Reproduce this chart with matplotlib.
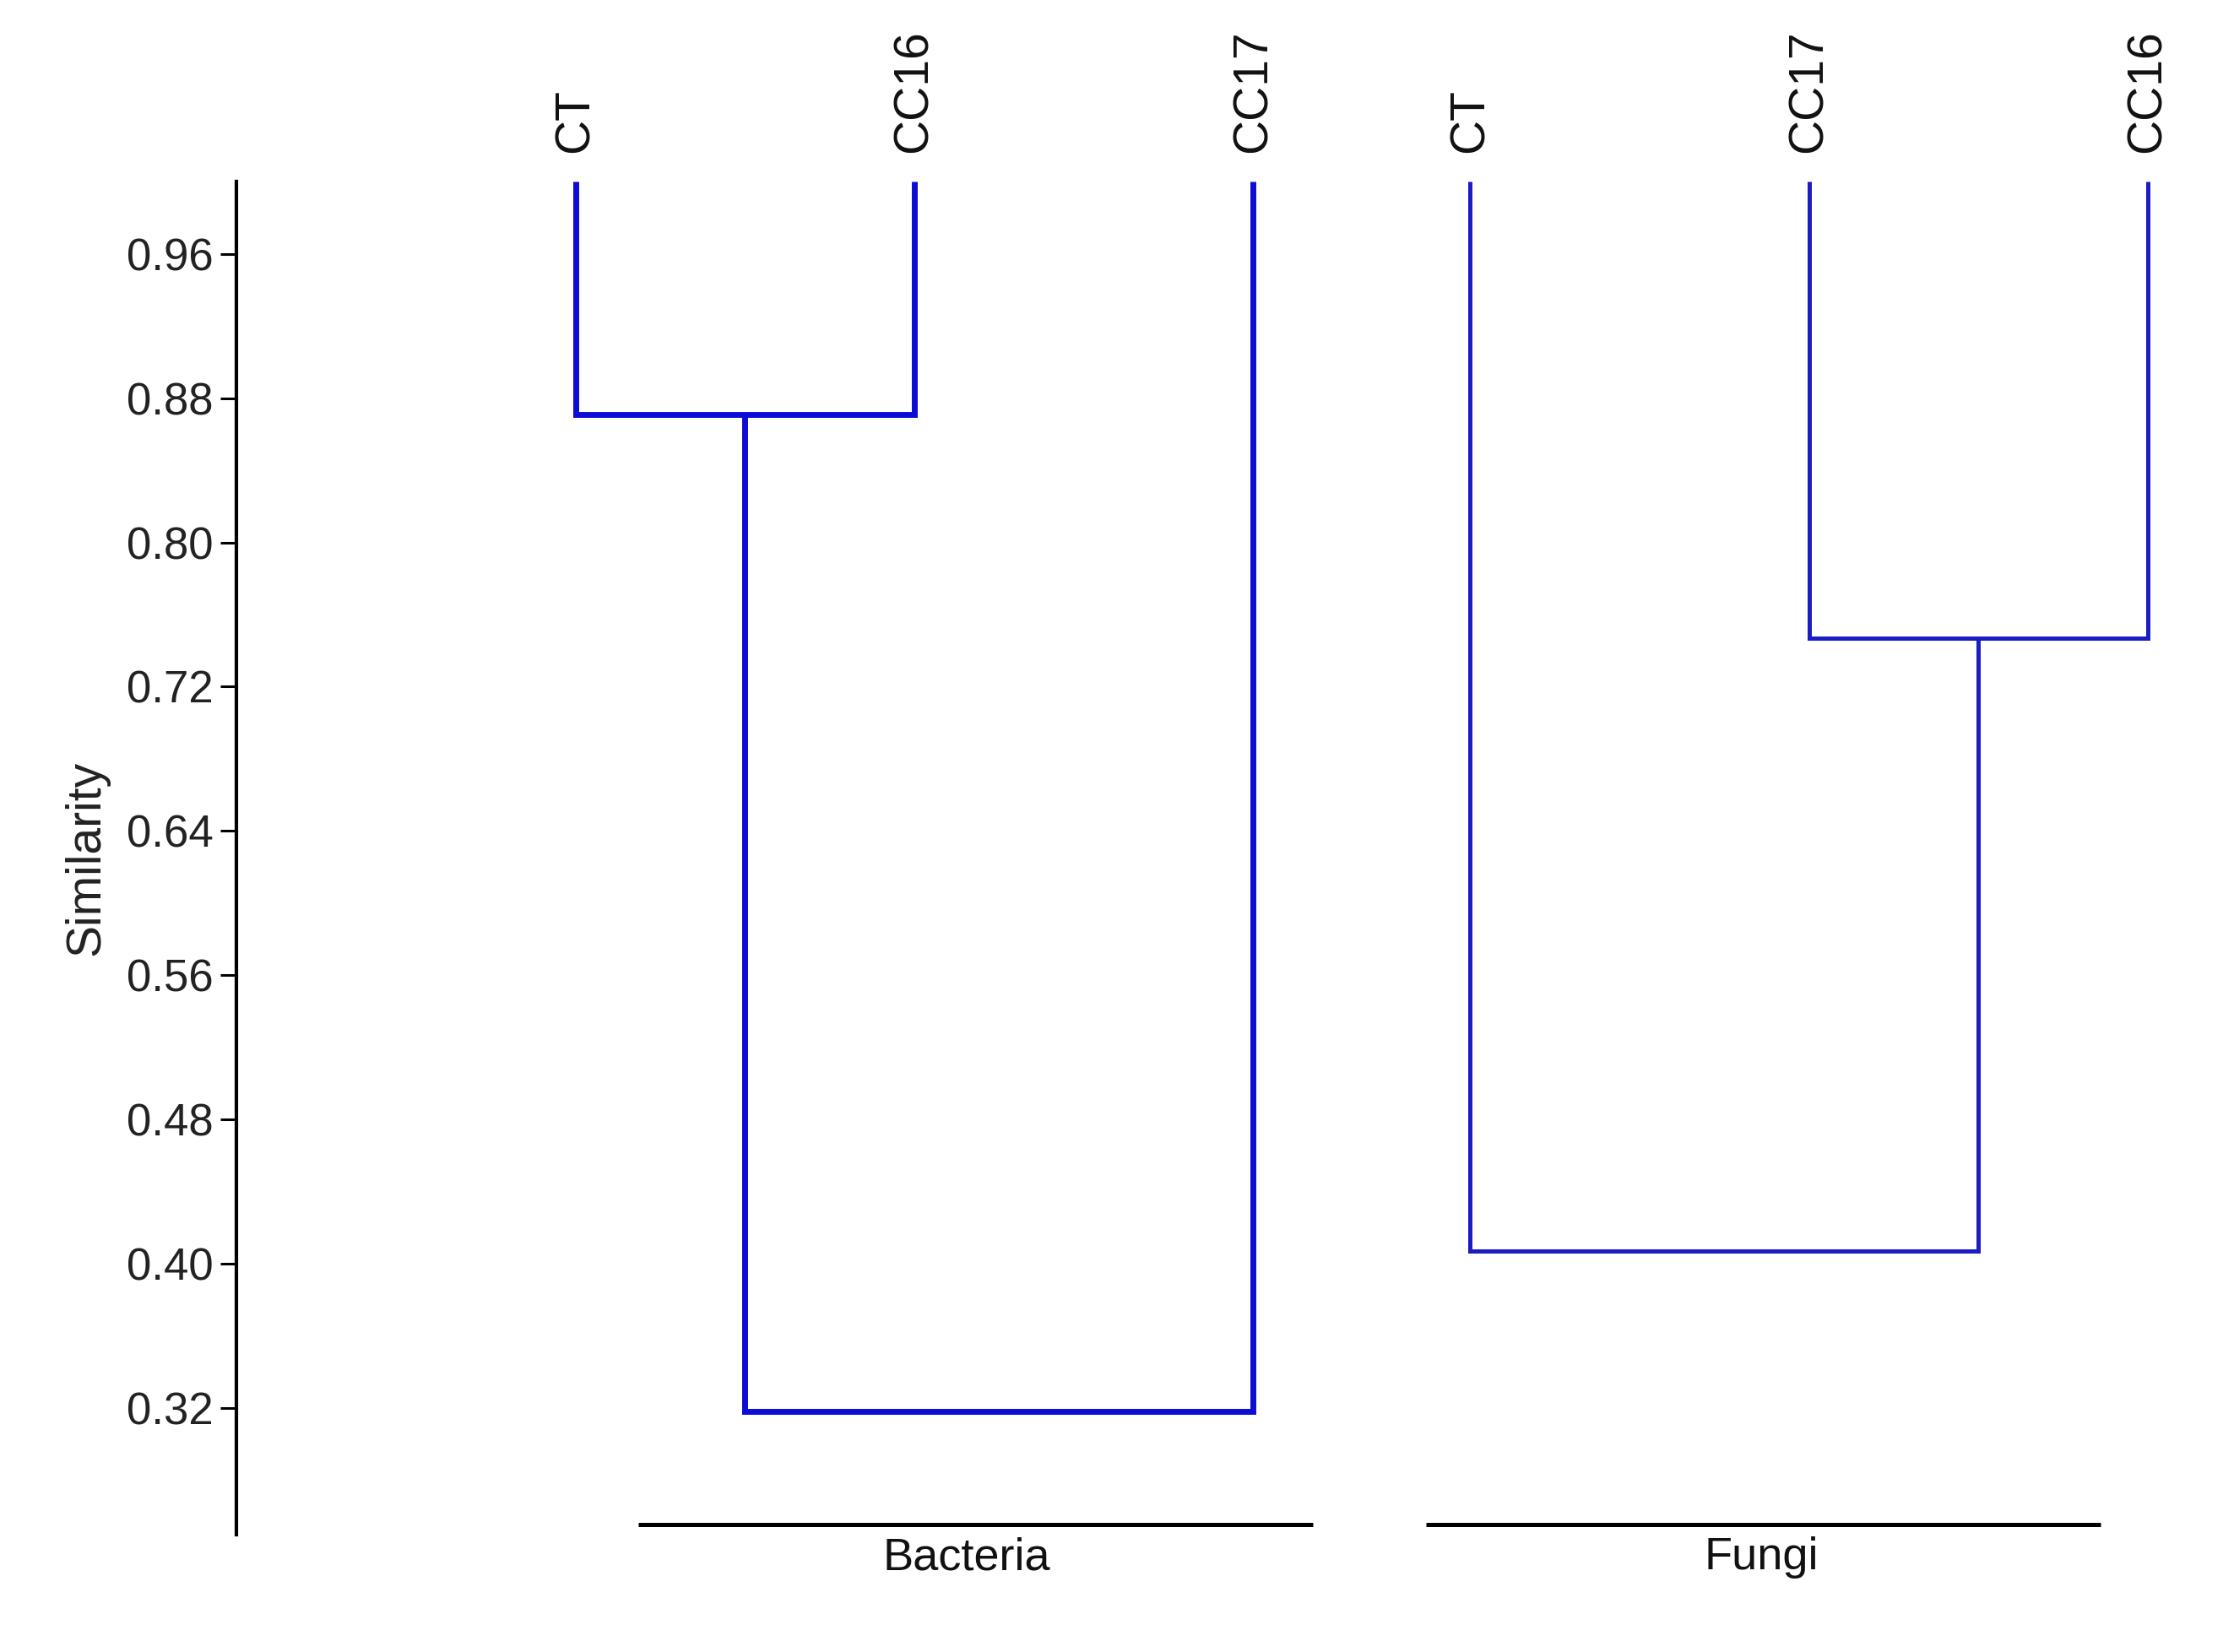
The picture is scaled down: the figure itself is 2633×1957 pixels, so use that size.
import matplotlib
matplotlib.use("Agg")
import matplotlib.pyplot as plt

plt.rcParams['font.family'] = ['Liberation Sans', 'DejaVu Sans']

# Bacteria dendrogram (leaf order left to right)
bact_leaves = ['CT', 'CC16', 'CC17']
bact_x = [0.0, 1.0, 2.0]
bact_h1 = 0.871   # CT + CC16
bact_h2 = 0.318   # (CT, CC16) + CC17

# Fungi dendrogram
fungi_leaves = ['CT', 'CC17', 'CC16']
fungi_x = [2.64, 3.64, 4.64]
fungi_h1 = 0.747  # CC17 + CC16
fungi_h2 = 0.407  # CT + (CC17, CC16)

yticks = [0.32, 0.40, 0.48, 0.56, 0.64, 0.72, 0.80, 0.88, 0.96]
groups = ['Bacteria', 'Fungi']
group_span = [(0.184, 2.176), (2.51, 4.50)]
group_text_x = [1.155, 3.50]

fig = plt.figure(figsize=(26.33, 19.57), dpi=100)
ax = fig.add_axes([0.1065, 0.0712, 0.8935, 0.8188])
ax.set_xlim(-1.0, 4.862)
ax.set_ylim(0.25, 1.0)


def link(ax, xa, ya, xb, yb, h, color, lw):
    ax.plot([xa, xa, xb, xb], [ya, h, h, yb], color=color, lw=lw,
            solid_joinstyle='miter', solid_capstyle='butt', clip_on=False)
    return (xa + xb) / 2


# bacteria
c = link(ax, bact_x[0], 1.0, bact_x[1], 1.0, bact_h1, '#0c0cd6', 5.0)
link(ax, c, bact_h1, bact_x[2], 1.0, bact_h2, '#0c0cd6', 5.0)
# fungi
c = link(ax, fungi_x[1], 1.0, fungi_x[2], 1.0, fungi_h1, '#1c1cc4', 3.6)
link(ax, fungi_x[0], 1.0, c, fungi_h1, fungi_h2, '#1c1cc4', 3.6)

for x, name in zip(bact_x + fungi_x, bact_leaves + fungi_leaves):
    ax.annotate(name, (x, 1.0), xytext=(0, 25), textcoords='offset points',
                rotation=90, ha='center', va='bottom', fontsize=41,
                color='#111111')

ymin = ax.get_ylim()[0]
for name, (x0, x1), tx in zip(groups, group_span, group_text_x):
    ax.plot([x0, x1], [ymin + 0.0055, ymin + 0.0055], color='black',
            lw=3.6, clip_on=False, solid_capstyle='butt')
    ax.text(tx, ymin - 0.013, name, ha='center', va='center',
            fontsize=39, color='#111111')

for s in ['top', 'right', 'bottom']:
    ax.spines[s].set_visible(False)
ax.spines['left'].set_linewidth(3)
ax.set_xticks([])
ax.set_yticks(yticks)
ax.set_yticklabels([f'{v:.2f}' for v in yticks])
ax.tick_params(axis='y', length=14, width=2.2, labelsize=38, pad=6,
               labelcolor='#222222')
ax.set_ylabel('Similarity', fontsize=41, color='#222222')
ax.yaxis.set_label_coords(-0.064, 0.5)

fig.savefig('out.png', dpi=100)
